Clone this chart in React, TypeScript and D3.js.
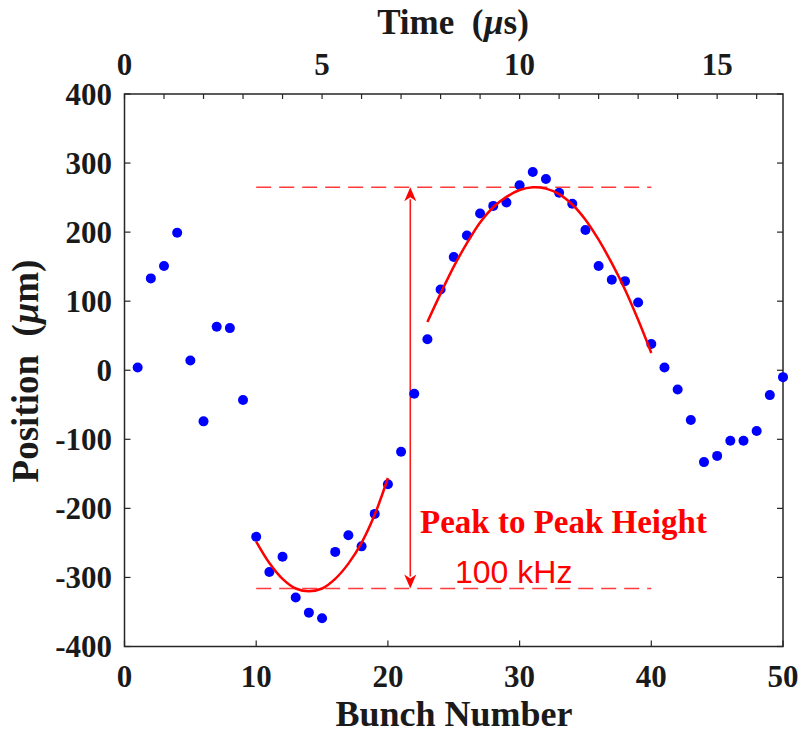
import React from 'react';
import * as d3 from 'd3';

const bunchNumbers = Array.from({ length: 50 }, (_, i) => i + 1);
const positions = [
  4, 133, 151, 199, 14, -74, 63, 61, -43, -241,
  -292, -270, -329, -351, -359, -263, -239, -255, -208, -165,
  -118, -34, 45, 117, 164, 195, 227, 238, 243, 268,
  287, 277, 257, 241, 203, 151, 131, 129, 98, 38,
  4, -28, -72, -133, -124, -102, -102, -88, -36, -10,
];

const fitLowX = [10, 11, 12, 13, 14, 15, 16, 17, 18, 19, 20];
const fitLowY = [-248, -279, -302, -316, -320, -316, -302, -280, -250, -209, -156];
const fitHighX = [23, 24, 25, 26, 27, 28, 29, 30, 31, 32, 33, 34, 35, 36, 37, 38, 39, 40];
const fitHighY = [70, 111, 150, 184, 214, 236, 251, 261, 265, 263, 255, 240, 218, 189, 155, 117, 73, 25];

const peakLevel = 265;
const troughLevel = -316;
const levelRange = [10, 40];
const arrowBunch = 21.7;

const xTicks = [0, 10, 20, 30, 40, 50];
const yTicks = [-400, -300, -200, -100, 0, 100, 200, 300, 400];
const timeTicks = d3.range(0, 17);
const timeLabels = [0, 5, 10, 15];
const bunchSpacingUs = 1 / 3;

const W = 802;
const H = 734;
const L = 124.5, R = 783, T = 94, B = 646.5;

export default function App() {
  const x = d3.scaleLinear().domain([0, 50]).range([L, R]);
  const y = d3.scaleLinear().domain([-400, 400]).range([B, T]);
  const xt = d3.scaleLinear().domain([0, 50 * bunchSpacingUs]).range([L, R]);

  const line = d3.line<[number, number]>().x(d => x(d[0])).y(d => y(d[1])).curve(d3.curveCatmullRom);
  const lowPath = line(fitLowX.map((v, i) => [v, fitLowY[i]]))!;
  const highPath = line(fitHighX.map((v, i) => [v, fitHighY[i]]))!;

  const axisColor = '#262626';
  const serif = '"Liberation Serif", "Times New Roman", serif';
  const ax = x(arrowBunch);
  const yTop = y(peakLevel);
  const yBot = y(troughLevel);
  const headH = 14, headW = 6;

  return (
    <svg width={W} height={H} style={{ position: 'absolute', left: 0, top: 0, background: '#fff' }}>
      <rect x={0} y={0} width={W} height={H} fill="#fff" />
      {/* plot box */}
      <rect x={L} y={T} width={R - L} height={B - T} fill="none" stroke={axisColor} strokeWidth={1.5} />
      {/* bottom ticks */}
      {xTicks.map(t => (
        <g key={'xb' + t}>
          <line x1={x(t)} x2={x(t)} y1={B} y2={B - 6} stroke={axisColor} strokeWidth={1.2} />
          <text x={x(t)} y={687} textAnchor="middle" fontFamily={serif} fontWeight="bold" fontSize={31} fill="#1a1a1a">{t}</text>
        </g>
      ))}
      {/* top ticks */}
      {timeTicks.map(t => (
        <line key={'xt' + t} x1={xt(t)} x2={xt(t)} y1={T} y2={T + 5} stroke={axisColor} strokeWidth={1.2} />
      ))}
      {timeLabels.map(t => (
        <text key={'tl' + t} x={xt(t)} y={75} textAnchor="middle" fontFamily={serif} fontWeight="bold" fontSize={31} fill="#1a1a1a">{t}</text>
      ))}
      {/* y ticks */}
      {yTicks.map(t => (
        <g key={'y' + t}>
          <line x1={L} x2={L + 6} y1={y(t)} y2={y(t)} stroke={axisColor} strokeWidth={1.2} />
          <line x1={R} x2={R - 6} y1={y(t)} y2={y(t)} stroke={axisColor} strokeWidth={1.2} />
          <text x={112} y={y(t) + 10.5} textAnchor="end" fontFamily={serif} fontWeight="bold" fontSize={31} fill="#1a1a1a">{t}</text>
        </g>
      ))}
      {/* axis titles */}
      <text x={454} y={726} textAnchor="middle" fontFamily={serif} fontWeight="bold" fontSize={36} fill="#1a1a1a">Bunch Number</text>
      <text x={453} y={34} textAnchor="middle" fontFamily={serif} fontWeight="bold" fontSize={35} fill="#1a1a1a" xmlSpace="preserve">
        Time  (<tspan fontStyle="italic">µ</tspan>s)
      </text>
      <text transform={`translate(38,${371}) rotate(-90)`} textAnchor="middle" fontFamily={serif} fontWeight="bold" fontSize={37} fill="#1a1a1a" xmlSpace="preserve">
        Position  (<tspan fontStyle="italic">µ</tspan>m)
      </text>

      {/* dashed reference levels */}
      <line x1={x(levelRange[0])} x2={x(levelRange[1])} y1={yTop} y2={yTop} stroke="#ff3b3b" strokeWidth={1.5} strokeDasharray="15,8" />
      <line x1={x(levelRange[0])} x2={x(levelRange[1])} y1={yBot} y2={yBot} stroke="#ff3b3b" strokeWidth={1.5} strokeDasharray="15,8" />

      {/* double arrow */}
      <line x1={ax} x2={ax} y1={yTop + headH - 2} y2={yBot - headH + 2} stroke="#ff1a1a" strokeWidth={1.6} />
      <path d={`M${ax},${yTop} L${ax - headW},${yTop + headH} L${ax},${yTop + headH - 4} L${ax + headW},${yTop + headH} Z`} fill="#ff0000" />
      <path d={`M${ax},${yBot} L${ax - headW},${yBot - headH} L${ax},${yBot - headH + 4} L${ax + headW},${yBot - headH} Z`} fill="#ff0000" />

      {/* data points */}
      {bunchNumbers.map((b, i) => (
        <circle key={'p' + b} cx={x(b)} cy={y(positions[i])} r={5} fill="#0000ff" />
      ))}

      {/* fits */}
      <path d={lowPath} fill="none" stroke="#ff0000" strokeWidth={2.5} />
      <path d={highPath} fill="none" stroke="#ff0000" strokeWidth={2.5} />

      {/* annotations */}
      <text x={420} y={533} fontFamily={serif} fontWeight="bold" fontSize={33} fill="#ff0000">Peak to Peak Height</text>
      <text x={455} y={583} fontFamily='"Liberation Sans", Arial, sans-serif' fontSize={32} fill="#ff0000">100 kHz</text>
    </svg>
  );
}
